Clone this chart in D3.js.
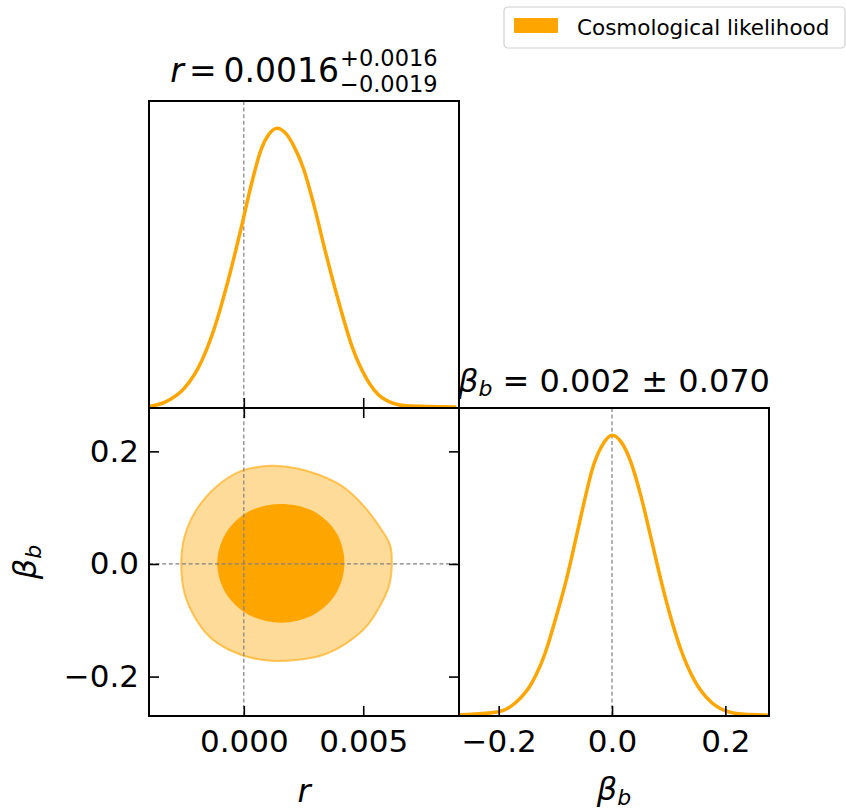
<!DOCTYPE html>
<html lang="en">
<head>
<meta charset="UTF-8"/>
<title>Corner plot r / beta_b</title>
<script src="https://d3js.org/d3.v7.min.js"></script>
<style>
    body { margin: 0; background: #fff; }
    text { font-family: "DejaVu Sans", sans-serif; fill: #000; }
</style>
</head>
<body>
<script>

    var w = 846;
    var h = 811;

    // 1D marginal of r (peak normalised to 1)
    var rVals = [-0.00402, -0.00332, -0.00248, -0.00178, -0.00123, -0.00067, -0.00011, 0.00031, 0.00073,
                 0.00105, 0.0014, 0.00175, 0.00210, 0.00250, 0.00289, 0.00345, 0.00401, 0.00456, 0.00513,
                 0.00582, 0.0068, 0.0089];
    var rDens = [0.005, 0.020, 0.0715, 0.1655, 0.286, 0.4516, 0.6436, 0.797, 0.925,
                 0.978, 1.0, 0.982, 0.935, 0.855, 0.740, 0.547, 0.368, 0.213, 0.106,
                 0.035, 0.008, 0.004];

    // 1D marginal of beta_b
    var bVals = [-0.2704, -0.2, -0.1704, -0.1409, -0.1173, -0.0996, -0.0819, -0.0701, -0.0584, -0.0465, -0.0347,
                 -0.017, 0.0, 0.0154, 0.0331, 0.0508, 0.0685, 0.0862, 0.1038, 0.1216, 0.1451, 0.1747,
                 0.2012, 0.2336, 0.275];
    var bDens = [0.0036, 0.015, 0.047, 0.120, 0.228, 0.346, 0.475, 0.575, 0.680, 0.785, 0.880,
                 0.965, 1.0, 0.978, 0.905, 0.785, 0.637, 0.485, 0.350, 0.236, 0.128, 0.050,
                 0.018, 0.006, 0.0036];

    // 95% contour (r, beta_b)
    var c95r = [0.001286, 0.002194, 0.003170, 0.004146, 0.004983, 0.005683, 0.006120, 0.006198, 0.006072,
                0.005683, 0.005126, 0.004288, 0.003308, 0.002194, 0.001286, 0.000377, -0.000599, -0.001436,
                -0.002065, -0.002483, -0.002621, -0.002483, -0.001993, -0.001156, -0.000180, 0.000657];
    var c95b = [0.1746, 0.170, 0.158, 0.1373, 0.1048, 0.0663, 0.0340, 0.0012, -0.0403,
                -0.0758, -0.1114, -0.1409, -0.1616, -0.1705, -0.1723, -0.1675, -0.1528, -0.1291,
                -0.0936, -0.0520, 0.0012, 0.0485, 0.0959, 0.1373, 0.1639, 0.1728];

    // 68% contour
    var c68r = [0.004213, 0.003880, 0.002920, 0.001550, 0.000200, -0.000760, -0.001113,
                -0.000760, 0.000200, 0.001550, 0.002900, 0.003870];
    var c68b = [0.0012, 0.0550, 0.0935, 0.1066, 0.0930, 0.0540, 0.0012,
                -0.0515, -0.0900, -0.1042, -0.0905, -0.0520];

    var rTicks = [0.0, 0.005];
    var bTicks = [-0.2, 0.0, 0.2];
    var markerR = 0.0;
    var markerB = 0.0;

    var svg = d3.select("body")
                .append("svg")
                .attr("width", w)
                .attr("height", h);

    // panel boxes
    var L = 149, M = 459, R = 769;
    var T = 101, Mid = 408, B = 716;

    var xr = d3.scaleLinear().domain([-0.00397, 0.00901]).range([L, M]);
    var xb = d3.scaleLinear().domain([-0.270, 0.277]).range([M, R]);
    var yb = d3.scaleLinear().domain([-0.270, 0.277]).range([B, Mid]);
    var yTop = d3.scaleLinear().domain([0, 1.097]).range([Mid, T]);
    var yBR = d3.scaleLinear().domain([0, 1.097]).range([B, Mid]);

    var defs = svg.append("defs");
    function clip(id, x, y, ww, hh) {
        defs.append("clipPath").attr("id", id)
            .append("rect").attr("x", x).attr("y", y).attr("width", ww).attr("height", hh);
    }
    clip("cTL", L, T, M - L, Mid - T);
    clip("cBL", L, Mid, M - L, B - Mid);
    clip("cBR", M, Mid, R - M, B - Mid);

    var orange = "#ffa500";

    // 2D contours
    var gBL = svg.append("g").attr("clip-path", "url(#cBL)");
    var contourLine = d3.line()
        .x(function(d) { return xr(d[0]); })
        .y(function(d) { return yb(d[1]); })
        .curve(d3.curveCatmullRomClosed.alpha(0.5));

    gBL.append("path")
        .attr("d", contourLine(d3.zip(c95r, c95b)))
        .attr("fill", orange).attr("fill-opacity", 0.4)
        .attr("stroke", orange).attr("stroke-opacity", 0.6).attr("stroke-width", 2);
    gBL.append("path")
        .attr("d", contourLine(d3.zip(c68r, c68b)))
        .attr("fill", orange);

    // marker dashed lines
    var dashStyle = { stroke: "#808080", w: 1.2, da: "4,2.6" };
    function vline(g, x, y0, y1) {
        g.append("line").attr("x1", x).attr("x2", x).attr("y1", y0).attr("y2", y1)
         .attr("stroke", dashStyle.stroke).attr("stroke-width", dashStyle.w).attr("stroke-dasharray", dashStyle.da);
    }
    function hline(g, y, x0, x1) {
        g.append("line").attr("x1", x0).attr("x2", x1).attr("y1", y).attr("y2", y)
         .attr("stroke", dashStyle.stroke).attr("stroke-width", dashStyle.w).attr("stroke-dasharray", dashStyle.da);
    }
    vline(gBL, xr(markerR), Mid, B);
    hline(gBL, yb(markerB), L, M);

    var gTL = svg.append("g").attr("clip-path", "url(#cTL)");
    vline(gTL, xr(markerR), T, Mid);
    var gBR = svg.append("g").attr("clip-path", "url(#cBR)");
    vline(gBR, xb(markerB), Mid, B);

    // 1D curves
    var lineR = d3.line()
        .x(function(d) { return xr(d[0]); })
        .y(function(d) { return yTop(d[1]); })
        .curve(d3.curveMonotoneX);
    gTL.append("path")
        .attr("d", lineR(d3.zip(rVals, rDens)))
        .attr("fill", "none").attr("stroke", orange).attr("stroke-width", 3.5);

    var lineB = d3.line()
        .x(function(d) { return xb(d[0]); })
        .y(function(d) { return yBR(d[1]); })
        .curve(d3.curveMonotoneX);
    gBR.append("path")
        .attr("d", lineB(d3.zip(bVals, bDens)))
        .attr("fill", "none").attr("stroke", orange).attr("stroke-width", 3.5);

    // axes (inward ticks)
    var tickLen = -10, fs = 31;
    function styleAxis(g) {
        g.select(".domain").remove();
        g.selectAll(".tick line").attr("stroke", "#000").attr("stroke-width", 1.6);
        g.selectAll(".tick text").attr("font-size", fs + "px").attr("font-family", "DejaVu Sans").attr("fill", "#000");
    }
    var fr = d3.format(".3f"), fb = d3.format(".1f");

    svg.append("g").attr("transform", "translate(0," + Mid + ")")
        .call(d3.axisBottom(xr).tickValues(rTicks).tickSize(tickLen).tickFormat(""))
        .call(styleAxis);
    svg.append("g").attr("transform", "translate(0," + B + ")")
        .call(d3.axisBottom(xr).tickValues(rTicks).tickSize(tickLen).tickPadding(14).tickFormat(fr))
        .call(styleAxis);
    svg.append("g").attr("transform", "translate(0," + Mid + ")")
        .call(d3.axisTop(xr).tickValues(rTicks).tickSize(tickLen).tickFormat(""))
        .call(styleAxis);
    svg.append("g").attr("transform", "translate(" + L + ",0)")
        .call(d3.axisLeft(yb).tickValues(bTicks).tickSize(tickLen).tickPadding(10).tickFormat(fb))
        .call(styleAxis);
    svg.append("g").attr("transform", "translate(" + M + ",0)")
        .call(d3.axisRight(yb).tickValues(bTicks).tickSize(tickLen).tickFormat(""))
        .call(styleAxis);
    svg.append("g").attr("transform", "translate(0," + B + ")")
        .call(d3.axisBottom(xb).tickValues(bTicks).tickSize(tickLen).tickPadding(14).tickFormat(fb))
        .call(styleAxis);

    // frames
    [[L, T, M - L, Mid - T], [L, Mid, M - L, B - Mid], [M, Mid, R - M, B - Mid]].forEach(function(p) {
        svg.append("rect").attr("x", p[0]).attr("y", p[1]).attr("width", p[2]).attr("height", p[3])
           .attr("fill", "none").attr("stroke", "#000").attr("stroke-width", 2);
    });

    // axis labels
    svg.append("text").attr("x", (L + M) / 2).attr("y", 802).attr("text-anchor", "middle")
       .attr("font-size", "32px").attr("font-style", "italic").text("r");

    function betaLabel(sel) {
        sel.append("tspan").attr("font-style", "italic").text("β");
        sel.append("tspan").attr("font-style", "italic").attr("font-size", "22px").attr("dy", 5).text("b");
    }
    svg.append("text").attr("x", (M + R) / 2).attr("y", 800).attr("text-anchor", "middle")
       .attr("font-size", "32px").call(betaLabel);
    svg.append("text").attr("transform", "translate(36," + ((Mid + B) / 2) + ") rotate(-90)")
       .attr("text-anchor", "middle").attr("font-size", "32px").call(betaLabel);

    // title r  (math-style spacing around "=")
    var t1 = svg.append("g");
    var main1 = t1.append("text").attr("x", 0).attr("y", 82).attr("font-size", "33px");
    main1.append("tspan").attr("font-style", "italic").text("r");
    main1.append("tspan").attr("dx", 5).text("=");
    main1.append("tspan").attr("dx", 7).text("0.0016");
    var len1 = main1.node().getComputedTextLength() + 12;
    var supT = t1.append("text").attr("x", len1 + 1).attr("y", 66).attr("font-size", "22.5px").text("+0.0016");
    var subT = t1.append("text").attr("x", len1 + 1).attr("y", 92).attr("font-size", "22.5px").text("−0.0019");
    var tw1 = len1 + 1 + Math.max(supT.node().getComputedTextLength(), subT.node().getComputedTextLength());
    t1.attr("transform", "translate(" + ((L + M) / 2 - tw1 / 2) + ",0)");

    // title beta
    var t2 = svg.append("text").attr("x", (M + R) / 2).attr("y", 392).attr("text-anchor", "middle")
                .attr("font-size", "32px");
    t2.append("tspan").attr("font-style", "italic").text("β");
    t2.append("tspan").attr("font-style", "italic").attr("font-size", "22px").attr("dy", 4).text("b");
    t2.append("tspan").attr("dy", -4).text(" = 0.002 ± 0.070");

    // legend
    var lg = svg.append("g");
    lg.append("rect").attr("x", 504).attr("y", 7).attr("width", 341).attr("height", 41).attr("rx", 4)
      .attr("fill", "#fff").attr("fill-opacity", 0.8).attr("stroke", "#d0d0d0").attr("stroke-width", 1.2);
    lg.append("rect").attr("x", 514).attr("y", 18).attr("width", 44).attr("height", 15).attr("fill", orange);
    lg.append("text").attr("x", 577).attr("y", 35).attr("font-size", "21.5px").text("Cosmological likelihood");

</script>
</body>
</html>
